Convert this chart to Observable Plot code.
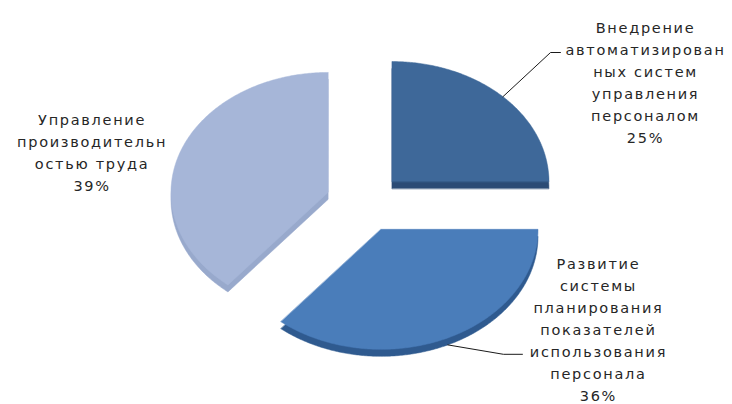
<!DOCTYPE html>
<html><head><meta charset="utf-8">
<script src="https://cdn.jsdelivr.net/npm/d3@7"></script>
<script src="https://cdn.jsdelivr.net/npm/@observablehq/plot@0.6"></script>
<style>
html,body{margin:0;padding:0;background:#fff;}
#chart svg text{letter-spacing:1.7px;}
</style></head><body><div id="chart"></div>
<script>
// ---- data ----
const categories = [
  "Внедрение\nавтоматизирован\nных систем\nуправления\nперсоналом",
  "Развитие\nсистемы\nпланирования\nпоказателей\nиспользования\nперсонала",
  "Управление\nпроизводительн\nостью труда"
];
const values = [25, 36, 39];

// ---- styles ----
const topColors = ["#3e6899", "#4a7dba", "#a6b6d8"];
const sideColors = ["#2b4b75", "#2f5a8f", "#98a9cc"];

// ---- layout ----
const W = 732, H = 404, CX = 364, CY = 202, RX = 157, RY = 120;
const explode = 0.247;
const depth = 7 / RY;
const labelPos = [[1.79, 1.0125], [1.49, -1.045], [-1.735, 0.429]];
const leaderBends = [[[1.185, 1.25], [1.248, 1.25]], [[0.885, -1.265], [1.006, -1.265]], null];

const arcs = d3.pie().sort(null).value(d => d)(values);
const slices = [], sides = [], leaders = [], labels = [];
arcs.forEach((a, i) => {
  const mid = (a.startAngle + a.endAngle) / 2;
  const ox = explode * Math.sin(mid), oy = explode * Math.cos(mid);
  const pts = [[ox, oy]];
  const n = Math.max(2, Math.ceil((a.endAngle - a.startAngle) / 0.01));
  for (let k = 0; k <= n; k++) {
    const t = a.startAngle + (a.endAngle - a.startAngle) * k / n;
    pts.push([ox + Math.sin(t), oy + Math.cos(t)]);
  }
  pts.forEach(([x, y], j) => {
    slices.push({i, j, x, y, fill: topColors[i]});
    sides.push({i, j, x, y: y - depth, fill: sideColors[i]});
  });
  labels.push({x: labelPos[i][0], y: labelPos[i][1], text: categories[i] + "\n" + values[i] + "%"});
  if (leaderBends[i]) {
    const sy = oy + Math.cos(mid) - (Math.cos(mid) < 0 ? depth : 0);
    leaders.push({i, x: ox + Math.sin(mid), y: sy});
    leaderBends[i].forEach(p => leaders.push({i, x: p[0], y: p[1]}));
  }
});

const chart = Plot.plot({
  width: W, height: H, margin: 0,
  style: {background: "#fff"},
  x: {domain: [-CX / RX, (W - CX) / RX], axis: null},
  y: {domain: [-(H - CY) / RY, CY / RY], axis: null},
  color: {type: "identity"},
  marks: [
    Plot.line(sides, {x: "x", y: "y", z: "i", fill: "fill", stroke: "fill", strokeWidth: 0.5, curve: "linear-closed"}),
    Plot.line(slices, {x: "x", y: "y", z: "i", fill: "fill", stroke: "fill", strokeWidth: 0.5, curve: "linear-closed"}),
    Plot.line(leaders, {x: "x", y: "y", z: "i", stroke: "#1a1a1a", strokeWidth: 1}),
    Plot.text(labels, {x: "x", y: "y", text: "text", fontSize: 14.5, lineHeight: 1.52, fill: "#262626", fontFamily: "DejaVu Sans"})
  ]
});
document.getElementById("chart").appendChild(chart);
</script></body></html>
